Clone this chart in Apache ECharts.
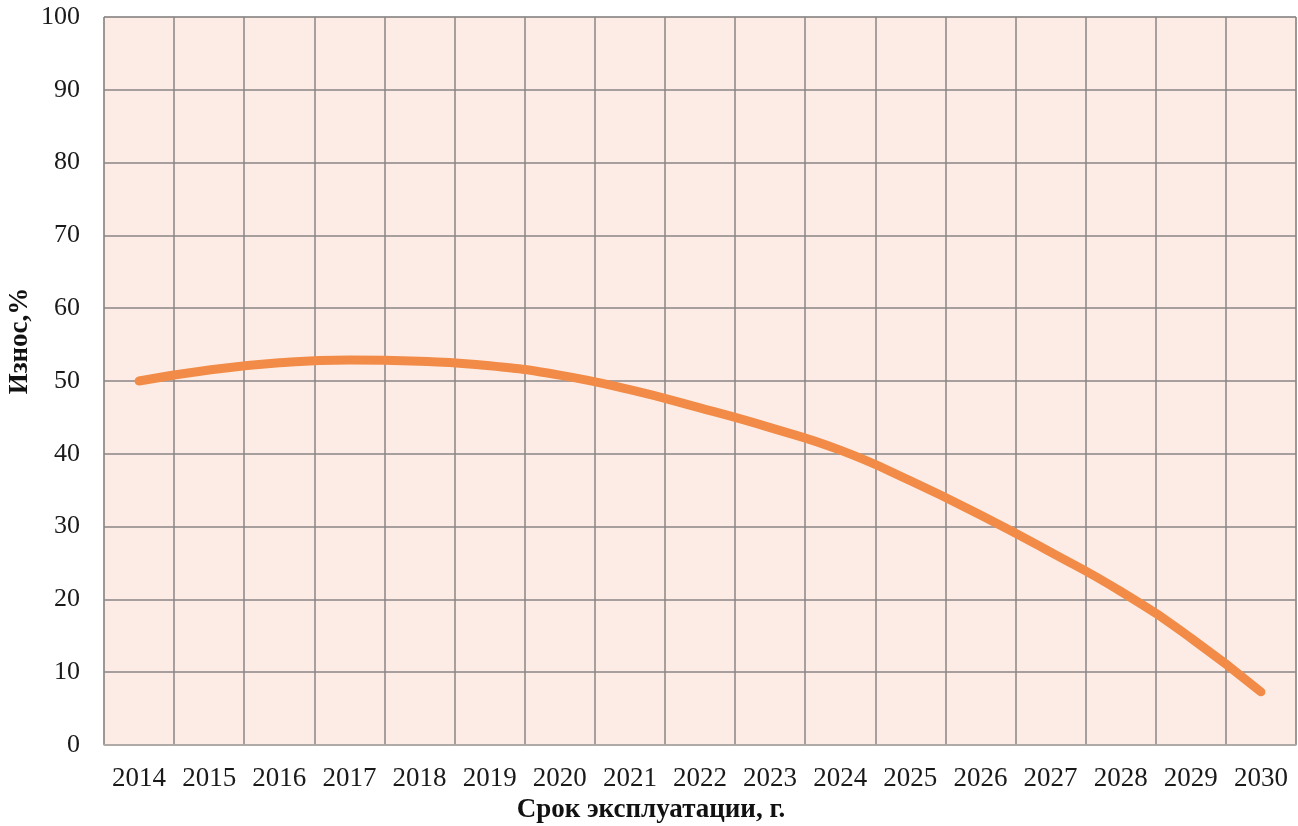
<!DOCTYPE html>
<html>
<head>
<meta charset="utf-8">
<script src="https://cdn.jsdelivr.net/npm/echarts@6/dist/echarts.min.js"></script>
<style>
  html, body { margin: 0; padding: 0; background: #fff; }
  #chart { width: 1298px; height: 826px; }
</style>
</head>
<body>
<div id="chart"></div>
<script>
// данные графика
var years = ['2014', '2015', '2016', '2017', '2018', '2019', '2020', '2021', '2022',
             '2023', '2024', '2025', '2026', '2027', '2028', '2029', '2030'];
var wear = [50, 51.5, 52.5, 52.9, 52.7, 52.1, 50.8, 48.8, 46.3,
            43.6, 40.5, 36.3, 31.6, 26.5, 21.1, 14.7, 7.3];

var myChart = echarts.init(document.getElementById('chart'));

var font = '"Liberation Serif", "Times New Roman", serif';

var option = {
    backgroundColor: '#ffffff',
    animation: false,
    grid: {
        left: 104,
        right: 2,
        top: 17,
        bottom: 81,
        outerBoundsMode: 'none',
        containLabel: false,
        show: true,
        backgroundColor: '#fcece5',
        borderColor: '#a9a4a2',
        borderWidth: 1
    },
    xAxis: {
        type: 'category',
        data: years,
        boundaryGap: true,
        name: 'Срок эксплуатации, г.',
        nameLocation: 'middle',
        nameGap: 52,
        nameMoveOverlap: false,
        nameTextStyle: {
            fontFamily: font,
            fontWeight: 'bold',
            fontSize: 27,
            color: '#111',
            padding: [0, 98, 0, 0]
        },
        axisLine: { show: true, lineStyle: { color: '#b5b0ae', width: 1.5 } },
        axisTick: { show: false, interval: 0 },
        axisLabel: {
            interval: 0,
            hideOverlap: false,
            fontFamily: font,
            fontSize: 27,
            color: '#1a1a1a',
            margin: 20
        },
        splitLine: { show: true, interval: 0, lineStyle: { color: '#8a8685', width: 1.5 } }
    },
    yAxis: {
        type: 'value',
        min: 0,
        max: 100,
        interval: 10,
        name: 'Износ,%',
        nameLocation: 'middle',
        nameGap: 70,
        nameMoveOverlap: false,
        nameTextStyle: {
            fontFamily: font,
            fontWeight: 'bold',
            fontSize: 27,
            color: '#111',
            padding: [0, 0, 0, 80]
        },
        axisLine: { show: false },
        axisTick: { show: false },
        axisLabel: {
            fontFamily: font,
            fontSize: 26,
            color: '#1a1a1a',
            margin: 24,
            padding: [4, 0, 0, 0]
        },
        splitLine: { show: true, lineStyle: { color: '#8a8685', width: 1.5 } }
    },
    series: [
        {
            name: 'Износ',
            type: 'line',
            data: wear,
            smooth: true,
            showSymbol: false,
            lineStyle: { color: '#f28b47', width: 9, cap: 'round' }
        }
    ]
};

myChart.setOption(option);
</script>
</body>
</html>
